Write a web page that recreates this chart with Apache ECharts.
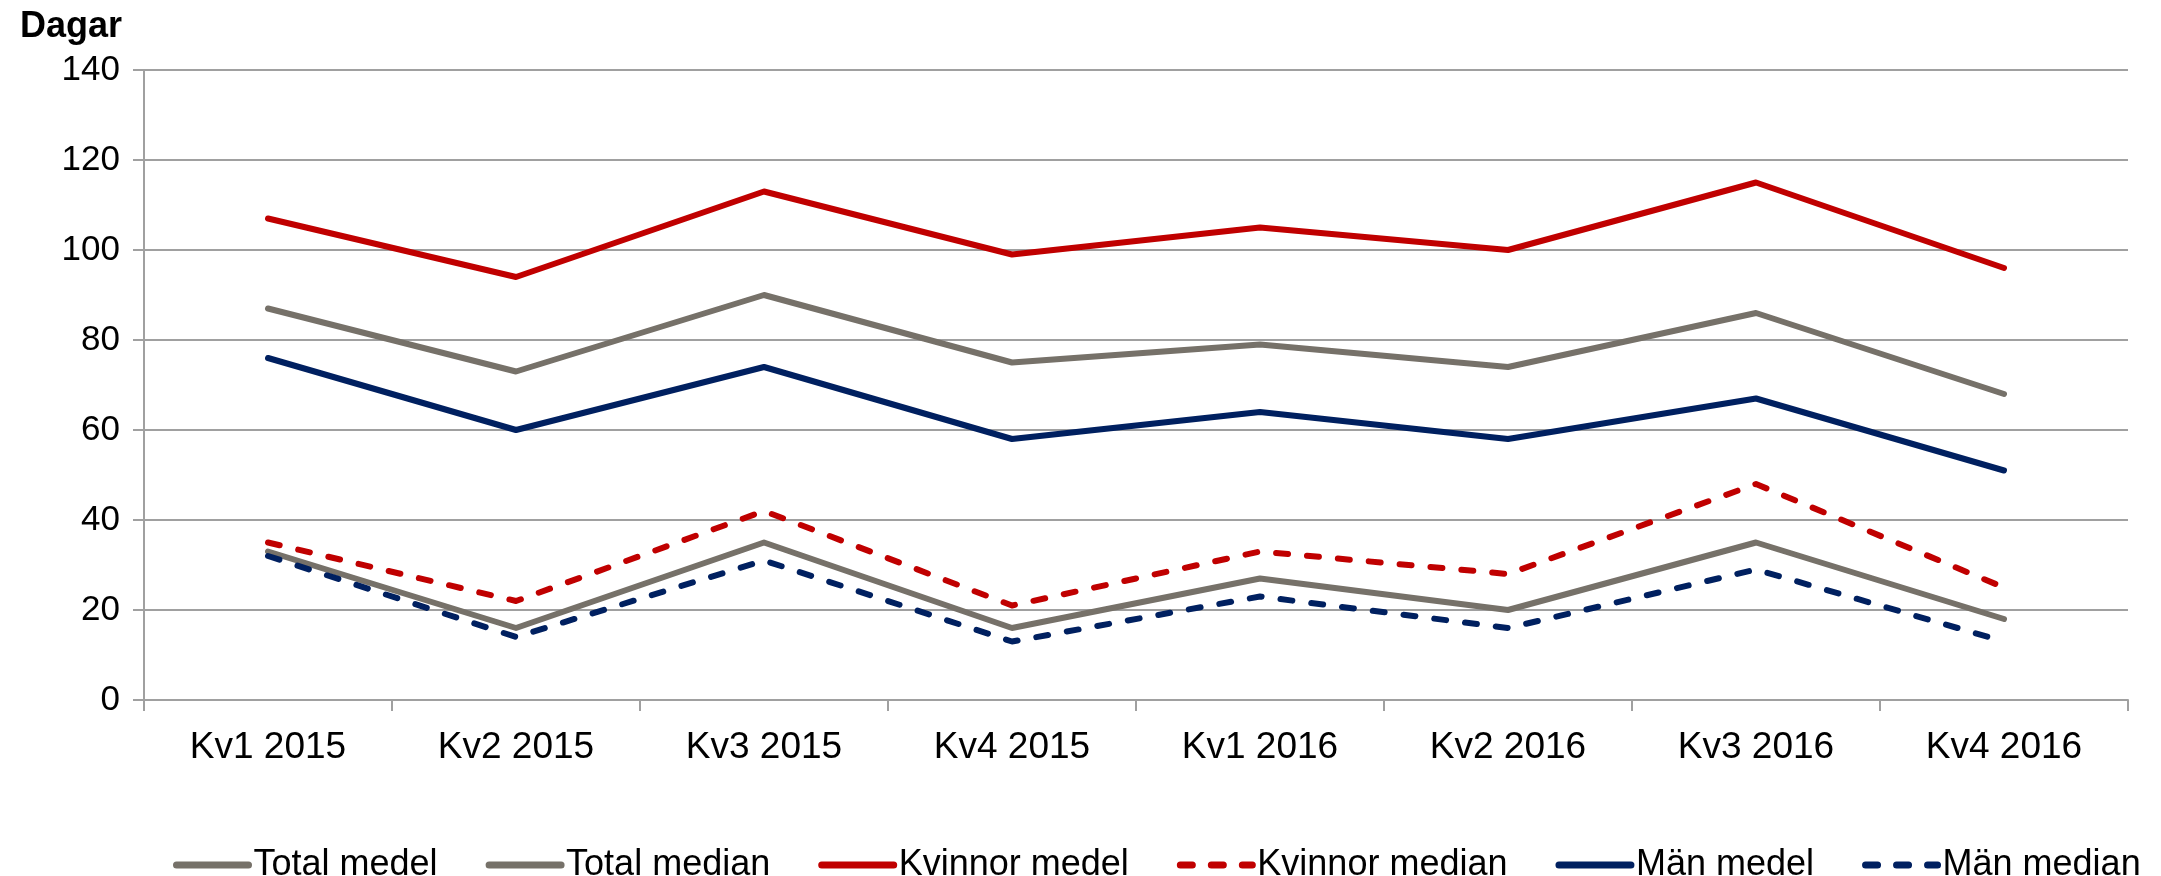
<!DOCTYPE html>
<html>
<head>
<meta charset="utf-8">
<script src="https://cdn.jsdelivr.net/npm/echarts@6/dist/echarts.min.js"></script>
<style>
  html, body { margin: 0; padding: 0; background: #fff; }
  #chart { width: 2161px; height: 876px; }
</style>
</head>
<body>
<div id="chart"></div>
<script>
const categories = ['Kv1 2015', 'Kv2 2015', 'Kv3 2015', 'Kv4 2015', 'Kv1 2016', 'Kv2 2016', 'Kv3 2016', 'Kv4 2016']

const totalMedel = [87, 73, 90, 75, 79, 74, 86, 68]
const totalMedian = [33, 16, 35, 16, 27, 20, 35, 18]
const kvinnorMedel = [107, 94, 113, 99, 105, 100, 115, 96]
const kvinnorMedian = [35, 22, 42, 21, 33, 28, 48, 25]
const manMedel = [76, 60, 74, 58, 64, 58, 67, 51]
const manMedian = [32, 14, 31, 13, 23, 16, 29, 13]

const FONT = '"Liberation Sans", Arial, sans-serif'
const GRAY = '#767169'
const RED = '#C00000'
const NAVY = '#002060'

function line(name, data, color, dashed) {
  return {
    name: name,
    type: 'line',
    data: data,
    symbol: 'none',
    smooth: false,
    lineStyle: {
      color: color,
      width: 6,
      type: dashed ? [12, 19] : 'solid',
      cap: 'round',
      join: 'round'
    },
    itemStyle: { color: color }
  }
}

const chart = echarts.init(document.getElementById('chart'))
chart.setOption({
  animation: false,
  backgroundColor: '#fff',
  title: {
    text: 'Dagar',
    left: 15,
    top: 4,
    textStyle: { fontFamily: FONT, fontSize: 36, fontWeight: 'bold', color: '#000' }
  },
  grid: { left: 144, right: 33, top: 70, bottom: 176, containLabel: false },
  xAxis: {
    type: 'category',
    data: categories,
    boundaryGap: true,
    axisLine: { show: true, lineStyle: { color: '#A0A0A0', width: 2 } },
    axisTick: { show: true, length: 11, lineStyle: { color: '#A0A0A0', width: 2 } },
    axisLabel: { fontFamily: FONT, fontSize: 37, color: '#000', margin: 29 }
  },
  yAxis: {
    type: 'value',
    min: 0,
    max: 140,
    interval: 20,
    axisLine: { show: true, lineStyle: { color: '#A0A0A0', width: 2 } },
    axisTick: { show: true, length: 11, lineStyle: { color: '#A0A0A0', width: 2 } },
    axisLabel: { fontFamily: FONT, fontSize: 35, color: '#000', margin: 24 },
    splitLine: { show: true, lineStyle: { color: '#A0A0A0', width: 2 } }
  },
  legend: {
    left: 168,
    top: 842,
    itemWidth: 72,
    itemHeight: 14,
    itemGap: 48,
    itemStyle: { opacity: 0 },
    lineStyle: { width: 7, cap: 'round' },
    textStyle: { fontFamily: FONT, fontSize: 36, color: '#000' },
    data: ['Total medel', 'Total median', 'Kvinnor medel', 'Kvinnor median', 'Män medel', 'Män median']
  },
  series: [
    line('Total medel', totalMedel, GRAY, false),
    line('Total median', totalMedian, GRAY, false),
    line('Kvinnor medel', kvinnorMedel, RED, false),
    line('Kvinnor median', kvinnorMedian, RED, true),
    line('Män medel', manMedel, NAVY, false),
    line('Män median', manMedian, NAVY, true)
  ]
})
</script>
</body>
</html>
